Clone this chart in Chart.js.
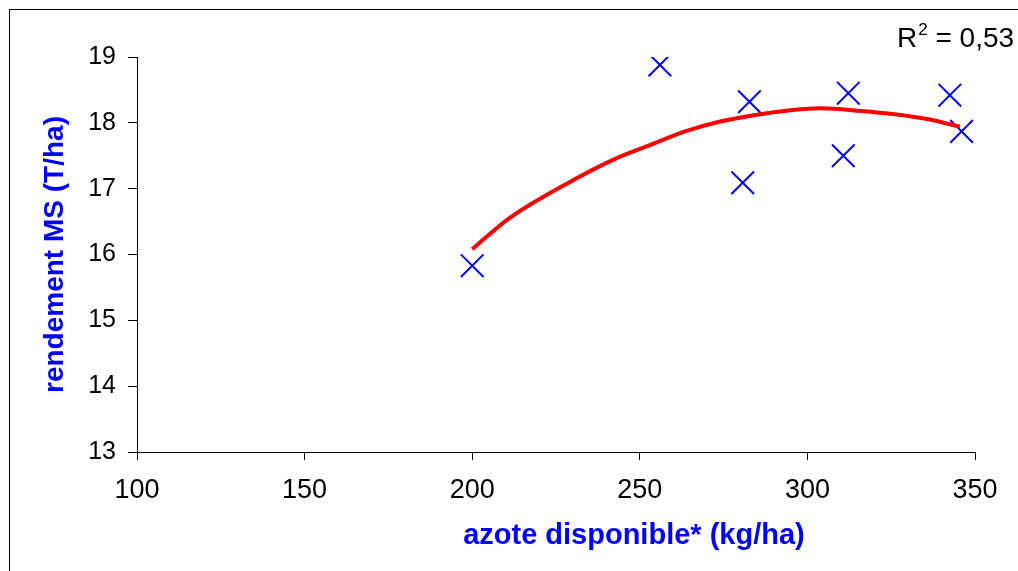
<!DOCTYPE html>
<html lang="fr">
<head>
<meta charset="utf-8">
<title>Rendement MS selon azote disponible</title>
<script src="https://cdn.jsdelivr.net/npm/chart.js@4.4.1/dist/chart.umd.min.js"></script>
<style>
  html, body { margin: 0; padding: 0; background: #fff; overflow: hidden; }
  #cadre { position: absolute; left: 9px; top: 9px; width: 1200px; height: 800px; border: 1px solid #000; }
  #wrap { position: absolute; left: 0; top: 0; width: 1018px; height: 571px; }
</style>
</head>
<body>
<div id="cadre"></div>
<div id="wrap"><canvas id="chart"></canvas></div>
<script>
  // points mesures
  var azote = [200.0, 256.0, 282.7, 280.7, 312.2, 310.7, 342.5, 346.0];
  var rendement = [15.83, 18.88, 18.32, 17.09, 18.45, 17.50, 18.42, 17.87];

  // courbe de tendance (polynomiale)
  var tendanceX = [200, 211, 232, 243, 253, 263.5, 274, 284.5, 295, 304, 316, 326, 336.5, 345.5];
  var tendanceY = [16.08, 16.55, 17.18, 17.46, 17.66, 17.87, 18.02, 18.12, 18.19, 18.22, 18.18, 18.13, 18.05, 17.94];

  var xTitre = 'azote disponible* (kg/ha)';
  var yTitre = 'rendement MS (T/ha)';
  var r2Texte = '0,53';

  var BLEU = 'rgb(0, 0, 255)';
  var ROUGE = 'rgb(255, 0, 0)';
  var NOIR = '#000';
  var POLICE = 'Arial, "Liberation Sans", sans-serif';

  function toPoints(xs, ys) {
    return xs.map(function (x, i) { return { x: x, y: ys[i] }; });
  }

  // titre X et R² dessines a la main (position decalee comme dans Excel)
  var textesPlugin = {
    id: 'textes',
    afterDraw: function (chart) {
      var ctx = chart.ctx;
      var area = chart.chartArea;
      ctx.save();
      ctx.fillStyle = BLEU;
      ctx.font = 'bold 29px ' + POLICE;
      ctx.textAlign = 'center';
      ctx.textBaseline = 'alphabetic';
      ctx.fillText(xTitre, area.left + (area.right - area.left) * 0.593, 544);

      ctx.fillStyle = NOIR;
      ctx.textAlign = 'left';
      ctx.font = '28px ' + POLICE;
      var x = 897, y = 47;
      ctx.fillText('R', x, y);
      x += ctx.measureText('R').width;
      ctx.font = '17px ' + POLICE;
      ctx.fillText('2', x + 1, y - 12);
      x += ctx.measureText('2').width + 1;
      ctx.font = '28px ' + POLICE;
      ctx.fillText(' = ' + r2Texte, x, y);
      ctx.restore();
    }
  };

  new Chart(document.getElementById('chart'), {
    type: 'scatter',
    data: {
      datasets: [
        {
          label: 'tendance',
          data: toPoints(tendanceX, tendanceY),
          showLine: true,
          borderColor: ROUGE,
          borderWidth: 4,
          pointRadius: 0,
          cubicInterpolationMode: 'monotone',
          fill: false
        },
        {
          label: 'mesures',
          data: toPoints(azote, rendement),
          pointStyle: 'crossRot',
          pointRadius: 16,
          borderColor: BLEU,
          backgroundColor: BLEU,
          pointBorderWidth: 2,
          borderWidth: 2,
          showLine: false
        }
      ]
    },
    options: {
      responsive: true,
      maintainAspectRatio: false,
      animation: false,
      devicePixelRatio: 1,
      layout: { padding: { left: 0, top: 57, right: 43, bottom: 0 } },
      plugins: {
        legend: { display: false },
        tooltip: { enabled: false }
      },
      scales: {
        x: {
          type: 'linear',
          min: 100,
          max: 350,
          afterFit: function (s) { s.height = 119; },
          border: { display: true, color: NOIR, width: 1 },
          grid: { drawOnChartArea: false, drawTicks: true, tickLength: 8, color: NOIR },
          ticks: {
            stepSize: 50,
            color: NOIR,
            padding: 14,
            maxRotation: 0,
            font: { family: POLICE, size: 27 }
          }
        },
        y: {
          type: 'linear',
          min: 13,
          max: 19,
          afterFit: function (s) { s.width = 137; },
          border: { display: true, color: NOIR, width: 1 },
          grid: { drawOnChartArea: false, drawTicks: true, tickLength: 9, color: NOIR },
          ticks: {
            stepSize: 1,
            color: NOIR,
            padding: 12,
            font: { family: POLICE, size: 25 }
          },
          title: {
            display: true,
            text: yTitre,
            color: BLEU,
            padding: { top: 38, bottom: 0 },
            font: { family: POLICE, size: 28, weight: 'bold' }
          }
        }
      }
    },
    plugins: [textesPlugin]
  });
</script>
</body>
</html>
